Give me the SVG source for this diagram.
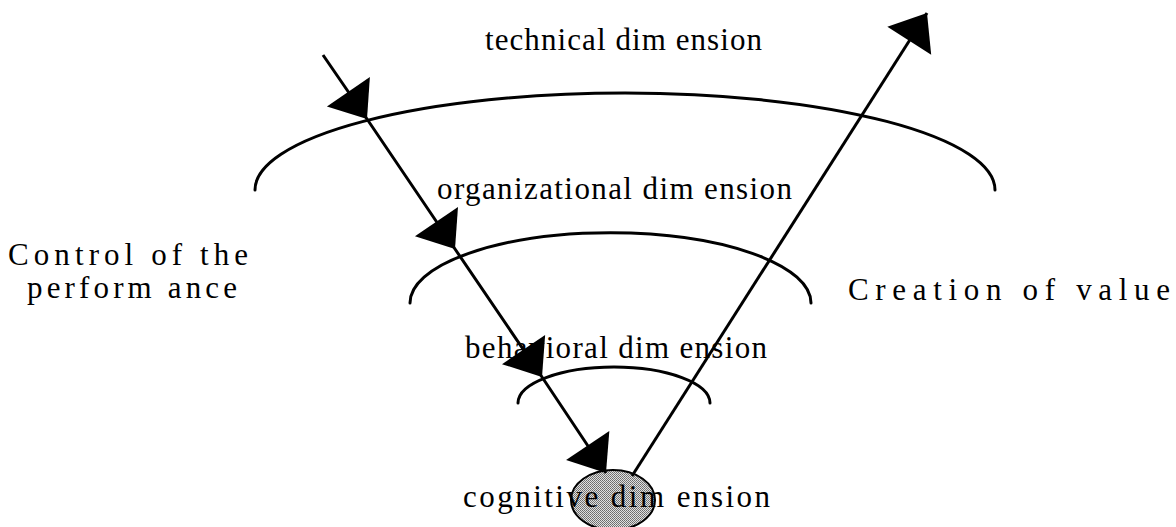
<svg xmlns="http://www.w3.org/2000/svg" width="1176" height="527" viewBox="0 0 1176 527">
  <defs>
    <style>
      .lbl { font-family: "Liberation Serif", "Times New Roman", serif; font-size: 31px; fill: #000; }
      .arc { fill: none; stroke: #000; stroke-width: 3; stroke-linecap: round; }
      .ray { fill: none; stroke: #000; stroke-width: 3; }
    </style>
    <marker id="head" markerUnits="userSpaceOnUse" markerWidth="40" markerHeight="60" viewBox="-35 -30 40 60" refX="0" refY="0" orient="auto">
      <path d="M0,0 L-33,-26 L-33,26 Z" fill="#000"/>
    </marker>
    <pattern id="stipple" width="2" height="2" patternUnits="userSpaceOnUse">
      <rect width="2" height="2" fill="#e0e0e0"/>
      <rect x="0" y="0" width="1" height="1" fill="#6a6a6a"/>
      <rect x="1" y="1" width="1" height="1" fill="#7a7a7a"/>
    </pattern>
  </defs>
  <rect width="1176" height="527" fill="#fff"/>

  <g id="node-cognitive-core">
    <ellipse cx="613" cy="500" rx="42" ry="30" fill="url(#stipple)" stroke="#000" stroke-width="2"/>
  </g>

  <g id="node-technical">
    <path class="arc" d="M255,190 A370,97 0 0 1 995,190"/>
    <text class="lbl" x="485" y="50" textLength="277" lengthAdjust="spacing">technical dim ension</text>
  </g>
  <g id="node-organizational">
    <path class="arc" d="M410,303 A200,70 0 0 1 811,303"/>
    <text class="lbl" x="437" y="199" textLength="355" lengthAdjust="spacing">organizational dim ension</text>
  </g>
  <g id="node-behavioral">
    <path class="arc" d="M518,403 A96,36 0 0 1 710,403"/>
    <text class="lbl" x="465" y="358" textLength="302" lengthAdjust="spacing">behavioral dim ension</text>
  </g>

  <g id="connectors">
    <polyline class="ray" points="323,55 367,119 455,249 542,377 606,473" marker-mid="url(#head)" marker-end="url(#head)"/>
    <polyline class="ray" points="632,476 927,13" marker-end="url(#head)"/>
  </g>

  <g id="node-cognitive">
    <text class="lbl" x="463" y="507" textLength="307" lengthAdjust="spacing">cognitive dim ension</text>
  </g>
  <g id="node-control">
    <text class="lbl" x="8" y="265" textLength="240" lengthAdjust="spacing">Control of the</text>
    <text class="lbl" x="27" y="298" textLength="210" lengthAdjust="spacing">perform ance</text>
  </g>
  <g id="node-creation">
    <text class="lbl" x="848" y="300" textLength="322" lengthAdjust="spacing">Creation of value</text>
  </g>
</svg>
